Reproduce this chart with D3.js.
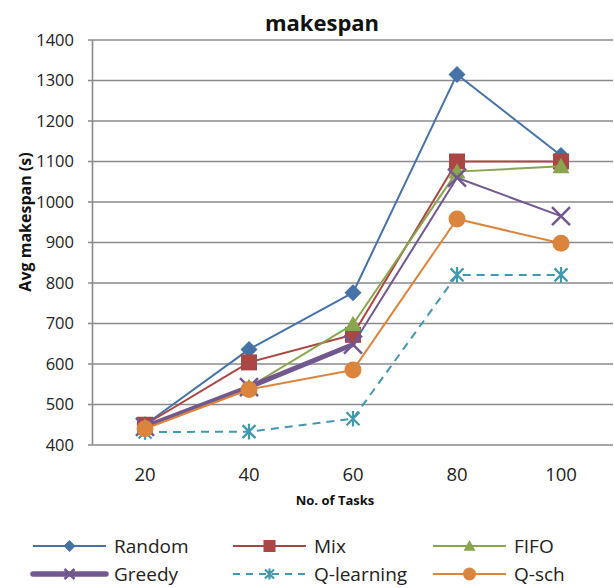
<!DOCTYPE html>
<html><head><meta charset="utf-8">
<script src="https://cdn.jsdelivr.net/npm/d3@7"></script>
<style>body{margin:0;background:#fff;}svg{display:block;font-family:"Open Sans",sans-serif;}</style>
</head><body>
<svg id="c" width="614" height="588"></svg>
<script>
const categories = ["20", "40", "60", "80", "100"];
const yTicks = [400, 500, 600, 700, 800, 900, 1000, 1100, 1200, 1300, 1400];
const seriesNames = ["Random", "Mix", "FIFO", "Greedy", "Q-learning", "Q-sch"];
const random = [450, 636, 776, 1315, 1115];
const mix = [450, 604, 672, 1100, 1100];
const fifo = [445, 543, 698, 1075, 1088];
const greedy = [445, 543, 648, 1060, 965];
const qlearning = [432, 433, 465, 820, 820];
const qsch = [440, 537, 585, 958, 898];
const seriesValues = [random, mix, fifo, greedy, qlearning, qsch];

const styles = {
  "Random": {color: "#4572A7", marker: "diamond"},
  "Mix": {color: "#AA4643", marker: "square"},
  "FIFO": {color: "#89A54E", marker: "triangle"},
  "Greedy": {color: "#71588F", marker: "x", thickUntil: 2},
  "Q-learning": {color: "#4198AF", marker: "asterisk", dash: "8,6"},
  "Q-sch": {color: "#DB843D", marker: "circle"}
};

const svg = d3.select("#c");
const x = d3.scalePoint().domain(categories).range([93, 613]).padding(0.5);
const y = d3.scaleLinear().domain([400, 1400]).range([445, 40]);
const grid = "#8a8a8a";

// gridlines
svg.append("g").selectAll("line").data(yTicks).join("line")
  .attr("x1", 88).attr("x2", 613)
  .attr("y1", d => y(d)).attr("y2", d => y(d))
  .attr("stroke", grid).attr("stroke-width", 1.6);
// y axis line
svg.append("line").attr("x1", 92.5).attr("x2", 92.5).attr("y1", y(1400)).attr("y2", y(400))
  .attr("stroke", grid).attr("stroke-width", 1.6);

// y tick labels
svg.append("g").selectAll("text").data(yTicks).join("text")
  .attr("x", 74).attr("y", d => y(d)).attr("dy", "0.35em")
  .attr("text-anchor", "end").attr("font-size", 16.5).attr("fill", "#222")
  .text(d => d);
// x tick labels
svg.append("g").selectAll("text").data(categories).join("text")
  .attr("x", d => x(d)).attr("y", 475).attr("dy", "0.35em")
  .attr("text-anchor", "middle").attr("font-size", 18.5).attr("fill", "#222")
  .text(d => d);

// titles
svg.append("text").attr("x", 322).attr("y", 23).attr("dy", "0.35em").attr("text-anchor", "middle")
  .attr("font-weight", "bold").attr("font-size", 22).attr("fill", "#111").text("makespan");
svg.append("text").attr("transform", "translate(25,222) rotate(-90)").attr("dy", "0.35em")
  .attr("text-anchor", "middle").attr("font-weight", "bold").attr("font-size", 16).attr("fill", "#111")
  .text("Avg makespan (s)");
svg.append("text").attr("x", 335).attr("y", 500).attr("dy", "0.35em").attr("text-anchor", "middle")
  .attr("font-weight", "bold").attr("font-size", 13).attr("fill", "#111").text("No. of Tasks");

function marker(g, type, cx, cy, s, color) {
  if (type === "diamond") {
    g.append("path").attr("d", `M${cx},${cy - s}L${cx + s},${cy}L${cx},${cy + s}L${cx - s},${cy}Z`).attr("fill", color);
  } else if (type === "square") {
    g.append("rect").attr("x", cx - s).attr("y", cy - s).attr("width", 2 * s).attr("height", 2 * s).attr("fill", color);
  } else if (type === "triangle") {
    g.append("path").attr("d", `M${cx},${cy - s}L${cx + s},${cy + s * 0.8}L${cx - s},${cy + s * 0.8}Z`).attr("fill", color);
  } else if (type === "circle") {
    g.append("circle").attr("cx", cx).attr("cy", cy).attr("r", s).attr("fill", color);
  } else if (type === "x" || type === "asterisk") {
    const w = type === "x" ? 2.5 : 2.2;
    g.append("path").attr("d", `M${cx - s},${cy - s}L${cx + s},${cy + s}M${cx - s},${cy + s}L${cx + s},${cy - s}` +
      (type === "asterisk" ? `M${cx},${cy - s * 1.2}L${cx},${cy + s * 1.2}` : ""))
      .attr("stroke", color).attr("stroke-width", w).attr("fill", "none");
  }
}
const markerSize = {diamond: 8.5, square: 8, triangle: 8.5, circle: 8.5, x: 9, asterisk: 6.5};
const legendSize = {diamond: 6, square: 6, triangle: 6, circle: 6.5, x: 5, asterisk: 4.5};

const line = d3.line().x(d => x(d[0])).y(d => y(d[1]));
seriesNames.forEach((name, i) => {
  const st = styles[name];
  const pts = categories.map((c, j) => [c, seriesValues[i][j]]);
  const g = svg.append("g");
  if (st.thickUntil !== undefined) {
    g.append("path").attr("d", line(pts.slice(0, st.thickUntil + 1))).attr("fill", "none")
      .attr("stroke", st.color).attr("stroke-width", 5).attr("stroke-linejoin", "round").attr("stroke-linecap", "round");
    g.append("path").attr("d", line(pts.slice(st.thickUntil))).attr("fill", "none")
      .attr("stroke", st.color).attr("stroke-width", 2).attr("stroke-linejoin", "round");
  } else {
    g.append("path").attr("d", line(pts)).attr("fill", "none")
      .attr("stroke", st.color).attr("stroke-width", 2).attr("stroke-linejoin", "round")
      .attr("stroke-dasharray", st.dash || null);
  }
  pts.forEach(p => marker(g, st.marker, x(p[0]), y(p[1]), markerSize[st.marker], st.color));
});

// legend
const legX = [33, 233, 433];
const legY = [546, 574];
seriesNames.forEach((name, i) => {
  const st = styles[name];
  const lx = legX[i % 3], ly = legY[Math.floor(i / 3)];
  const g = svg.append("g");
  g.append("line").attr("x1", lx).attr("x2", lx + 73).attr("y1", ly).attr("y2", ly)
    .attr("stroke", st.color).attr("stroke-width", st.thickUntil !== undefined ? 5.5 : 2)
    .attr("stroke-linecap", st.thickUntil !== undefined ? "round" : "butt")
    .attr("stroke-dasharray", st.dash ? "7,6" : null);
  marker(g, st.marker, lx + 36.5, ly, legendSize[st.marker], st.color);
  g.append("text").attr("x", lx + 81).attr("y", ly).attr("dy", "0.35em")
    .attr("font-size", 19).attr("fill", "#222").text(name);
});
</script>
</body></html>
